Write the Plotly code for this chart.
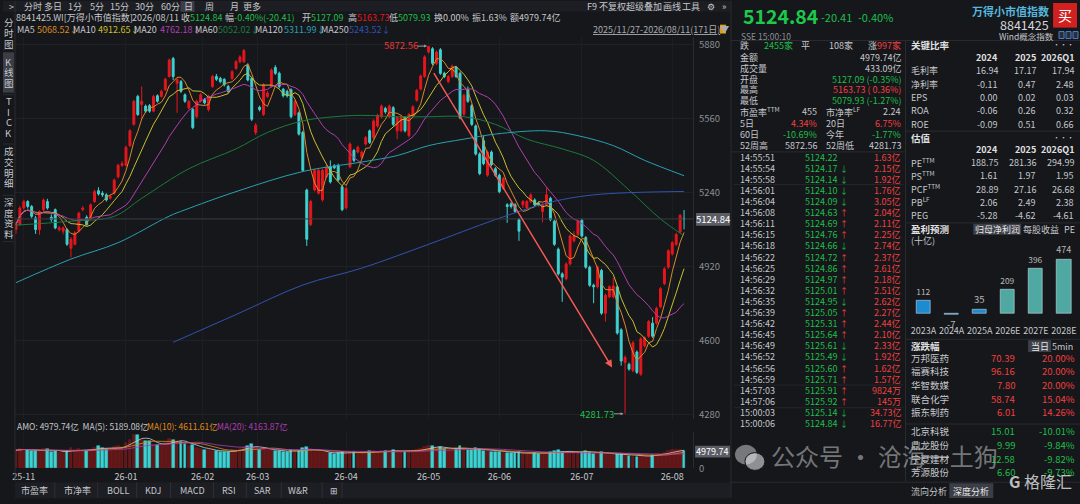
import pandas as pd
import plotly.graph_objects as go

W, H = 1080, 504
BG = "#15171b"
RED = "#e8161d"
CYAN = "#3fd2d2"
GREEN = "#1fbf4a"
TXT = "#c6c7cb"
GRAY = "#8b8e95"
LINE = "#2a2c32"
FONT = "Noto Sans CJK SC"

# K-line data, 2025/11/27 - 2026/08/11 (171 trading days)
OPEN = [5079, 5101, 5172, 5200, 5179, 5129, 5079, 5165, 5200, 5132,
        5165, 5079, 5072, 5079, 4998, 5015, 5072, 5165, 5132, 5129,
        5200, 5247, 5236, 5229, 5215, 5236, 5307, 5357, 5357, 5442,
        5534, 5655, 5620, 5613, 5615, 5591, 5658, 5655, 5684, 5741,
        5819, 5712, 5719, 5662, 5605, 5598, 5567, 5634, 5641, 5598,
        5698, 5741, 5733, 5729, 5698, 5733, 5776, 5805, 5805, 5790,
        5733, 5499, 5608, 5577, 5655, 5698, 5780, 5755, 5686, 5677,
        5684, 5577, 5584, 5499, 5250, 5101, 5250, 5236, 5207, 5307,
        5350, 5354, 5357, 5264, 5172, 5350, 5421, 5414, 5392, 5449,
        5506, 5477, 5527, 5567, 5603, 5567, 5606, 5506, 5506, 5563,
        5485, 5573, 5638, 5687, 5741, 5847, 5861, 5798, 5857, 5755,
        5719, 5741, 5780, 5755, 5578, 5684, 5615, 5527, 5406, 5463,
        5314, 5414, 5342, 5314, 5257, 5186, 5190, 5186, 5122, 5186,
        5172, 5200, 5207, 5193, 5157, 5186, 5214, 5115, 4994, 4887,
        4866, 4930, 5030, 5058, 5119, 5044, 4916, 4838, 4831, 4902,
        4717, 4788, 4788, 4831, 4645, 4503, 4496, 4468, 4549, 4453,
        4575, 4617, 4674, 4674, 4745, 4845, 4916, 4973, 5015, 5069,
        5127.09]
HIGH = [5112, 5180, 5208, 5206, 5185, 5138, 5162, 5214, 5212, 5145,
        5170, 5094, 5092, 5084, 5046, 5072, 5156, 5180, 5140, 5192,
        5252, 5262, 5245, 5236, 5230, 5300, 5364, 5375, 5442, 5513,
        5640, 5662, 5698, 5620, 5622, 5662, 5664, 5684, 5736, 5819,
        5826, 5734, 5726, 5668, 5640, 5605, 5641, 5670, 5648, 5662,
        5748, 5752, 5740, 5734, 5705, 5769, 5812, 5833, 5860, 5798,
        5740, 5540, 5615, 5712, 5678, 5776, 5790, 5762, 5692, 5684,
        5690, 5641, 5590, 5506, 5256, 5208, 5342, 5342, 5342, 5360,
        5378, 5362, 5364, 5270, 5264, 5456, 5428, 5442, 5421, 5484,
        5512, 5556, 5580, 5620, 5610, 5620, 5613, 5570, 5574, 5570,
        5584, 5617, 5688, 5750, 5833, 5872.56, 5868, 5854, 5864, 5762,
        5748, 5793, 5787, 5762, 5667, 5698, 5622, 5534, 5413, 5485,
        5421, 5421, 5349, 5321, 5307, 5193, 5197, 5193, 5129, 5207,
        5207, 5236, 5214, 5200, 5193, 5260, 5221, 5122, 5001, 4894,
        4937, 5058, 5072, 5122, 5126, 5051, 4923, 4845, 4923, 4909,
        4802, 4838, 4870, 4838, 4652, 4535, 4503, 4596, 4556, 4613,
        4617, 4688, 4700, 4745, 4830, 4916, 4994, 5029, 5065, 5147,
        5163.73]
LOW = [5060, 5095, 5165, 5170, 5128, 5060, 5056, 5158, 5165, 5112,
       5080, 5070, 5058, 5008, 4958, 5010, 5066, 5158, 5095, 5122,
       5194, 5226, 5220, 5200, 5208, 5230, 5300, 5350, 5352, 5436,
       5528, 5570, 5556, 5584, 5584, 5586, 5628, 5650, 5678, 5736,
       5726, 5584, 5670, 5627, 5598, 5513, 5560, 5628, 5620, 5590,
       5692, 5722, 5712, 5698, 5670, 5726, 5770, 5798, 5800, 5720,
       5548, 5488, 5590, 5570, 5648, 5692, 5748, 5690, 5650, 5650,
       5560, 5570, 5485, 5328, 5008, 5094, 5244, 5230, 5200, 5300,
       5278, 5340, 5286, 5158, 5166, 5344, 5370, 5408, 5385, 5442,
       5449, 5470, 5520, 5560, 5580, 5560, 5527, 5470, 5500, 5499,
       5478, 5566, 5632, 5680, 5735, 5840, 5790, 5790, 5748, 5734,
       5712, 5734, 5734, 5556, 5570, 5627, 5527, 5399, 5314, 5357,
       5307, 5353, 5307, 5236, 5250, 5108, 5170, 5150, 5030, 5172,
       5165, 5193, 5179, 5179, 5110, 5179, 5115, 5008, 4880, 4766,
       4859, 4923, 5023, 5051, 5044, 4909, 4831, 4760, 4824, 4710,
       4680, 4781, 4781, 4624, 4490, 4281.73, 4468, 4461, 4454, 4446,
       4568, 4610, 4610, 4667, 4738, 4838, 4909, 4966, 5008, 5062,
       5079.93]
CLOSE = [5101, 5172, 5200, 5179, 5136, 5079, 5157, 5207, 5172, 5122,
         5086, 5086, 5086, 5015, 5037, 5065, 5150, 5172, 5101, 5186,
         5243, 5233, 5229, 5207, 5222, 5293, 5357, 5364, 5435, 5506,
         5634, 5577, 5634, 5591, 5591, 5655, 5634, 5677, 5729, 5812,
         5741, 5729, 5677, 5634, 5634, 5520, 5634, 5662, 5627, 5655,
         5741, 5729, 5719, 5705, 5677, 5762, 5805, 5826, 5854, 5726,
         5556, 5530, 5598, 5705, 5670, 5769, 5755, 5698, 5658, 5658,
         5567, 5634, 5492, 5335, 5037, 5200, 5335, 5335, 5335, 5350,
         5285, 5346, 5293, 5165, 5257, 5449, 5378, 5435, 5414, 5477,
         5456, 5549, 5573, 5613, 5588, 5613, 5534, 5563, 5567, 5506,
         5577, 5610, 5681, 5743, 5826, 5871, 5798, 5847, 5755, 5741,
         5741, 5786, 5741, 5563, 5660, 5634, 5534, 5406, 5321, 5364,
         5414, 5360, 5314, 5243, 5300, 5179, 5179, 5157, 5072, 5200,
         5200, 5229, 5186, 5186, 5186, 5229, 5122, 5015, 4887, 4873,
         4930, 5051, 5051, 5115, 5051, 4916, 4838, 4831, 4916, 4717,
         4795, 4831, 4835, 4631, 4510, 4525, 4475, 4589, 4461, 4606,
         4610, 4681, 4617, 4738, 4823, 4909, 4987, 5022, 5058, 5140,
         5124.84]
# turnover (亿)
AMO = [5200, 5600, 5400, 5300, 4900, 5000, 4700, 5500, 5600, 4800,
       5000, 4500, 4300, 5100, 5900, 5200, 5600, 4700, 5100, 5400,
       5800, 6300, 5900, 5600, 5300, 6000, 6400, 6200, 7300, 8200,
       9500, 9600, 8000, 7800, 7700, 6800, 6600, 6300, 7400, 8400,
       8200, 7900, 7600, 6900, 6300, 6700, 5800, 5500, 5200, 5300,
       5100, 4900, 4800, 4600, 4700, 5200, 5400, 5500, 6100, 6500,
       6900, 6000, 5200, 5700, 5300, 5200, 5100, 4900, 4800, 4700,
       5300, 4900, 5100, 5700, 6200, 5300, 4800, 4600, 4700, 4400,
       4500, 4200, 4300, 4600, 4400, 4800, 4600, 4400, 4500, 4700,
       4900, 5000, 4800, 5100, 4900, 5000, 5200, 4900, 4800, 4700,
       5000, 5100, 5300, 5600, 6000, 6300, 6400, 5900, 6200, 5600,
       5300, 5400, 5500, 6300, 5600, 5400, 5300, 5700, 5500, 5100,
       4900, 4800, 4600, 4700, 4500, 4400, 4300, 4400, 4600, 4300,
       4200, 4400, 4300, 4100, 4200, 4500, 4600, 4900, 5200, 4800,
       4600, 4800, 4500, 4700, 4800, 5000, 4600, 4200, 4300, 4700,
       4300, 3900, 3800, 4100, 4200, 4000, 3500, 3400, 3300, 3500,
       3461, 3900, 3800, 4000, 4100, 4366, 5000, 5300, 5400, 5270,
       4979.74]

# long moving averages (index, value)
MA60_X = [0, 14, 25, 32, 44, 56, 64, 73, 81, 88, 97, 105, 114, 122, 130, 139, 147, 156, 164, 170]
MA60_Y = [5098, 5115, 5136, 5214, 5342, 5428, 5499, 5549, 5567, 5573, 5567, 5567, 5567, 5534,
          5470, 5428, 5378, 5250, 5125, 5052.02]
MA120_X = [0, 14, 26, 39, 43, 56, 73, 88, 97, 105, 114, 122, 135, 143, 152, 160, 170]
MA120_Y = [4849, 4951, 5022, 5137, 5164, 5243, 5330, 5371, 5399, 5442, 5470, 5492, 5506, 5485,
           5442, 5378, 5311.99]
MA250_X = [40, 56, 73, 88, 105, 122, 135, 147, 170]
MA250_Y = [4591, 4711, 4839, 4912, 5015, 5122, 5193, 5229, 5243.52]

MONTH_POS = [2, 28, 47.5, 61.5, 84, 105, 123, 144, 167]
MONTH_LBL = ["25-11", "26-01", "26-02", "26-03", "26-04", "26-05", "26-06", "26-07", "26-08"]
PRICE_TICKS = [4280, 4600, 4920, 5240, 5560, 5880]

MA_NAMES = ["MA5", "MA10", "MA20", "MA60", "MA120", "MA250"]
MA_LAST = ["5068.52", "4912.65", "4762.18", "5052.02", "5311.99", "5243.52"]
MA_COLORS = ["#d9882a", "#c9bf2f", "#b03fb0", "#1d7a3e", "#2aa0b0", "#3452b0"]

# right panel data
TICK_TIME = ["14:55:51", "14:55:54", "14:55:58", "14:56:01", "14:56:04", "14:56:08", "14:56:11",
             "14:56:15", "14:56:18", "14:56:22", "14:56:25", "14:56:29", "14:56:32", "14:56:35",
             "14:56:39", "14:56:42", "14:56:45", "14:56:49", "14:56:52", "14:56:56", "14:56:59",
             "14:57:03", "14:57:06", "15:00:03", "15:00:06"]
TICK_PRICE = ["5124.22", "5124.17", "5124.14", "5124.10", "5124.09", "5124.63", "5124.69",
              "5124.76", "5124.66", "5124.72", "5124.86", "5124.97", "5125.01", "5124.95",
              "5125.05", "5125.31", "5125.64", "5125.61", "5125.49", "5125.60", "5125.71",
              "5125.91", "5125.92", "5125.14", "5124.84"]
TICK_DIR = ["", "d", "d", "d", "d", "u", "u", "u", "d", "u", "u", "u", "u", "d",
            "u", "u", "u", "d", "d", "u", "u", "u", "u", "d", "d"]
TICK_AMT = ["1.63亿", "2.15亿", "1.92亿", "1.76亿", "3.05亿", "2.04亿", "2.11亿", "2.25亿",
            "2.74亿", "2.37亿", "2.61亿", "2.18亿", "2.51亿", "2.62亿", "2.27亿", "2.44亿",
            "2.10亿", "2.33亿", "1.92亿", "1.62亿", "1.57亿", "9824万", "145万", "34.73亿",
            "16.77亿"]

RATIO_YEARS = ["2024", "2025", "2026Q1"]
RATIO_ROWS = ["毛利率", "净利率", "EPS", "ROA", "ROE"]
RATIO_VALS = [["16.94", "17.17", "17.94"], ["-0.11", "0.47", "2.48"], ["0.00", "0.02", "0.03"],
              ["-0.06", "0.26", "0.32"], ["-0.09", "0.51", "0.66"]]
VAL_ROWS = ["PE<sup>TTM</sup>", "PS<sup>TTM</sup>", "PCF<sup>TTM</sup>", "PB<sup>LF</sup>", "PEG"]
VAL_VALS = [["188.75", "281.36", "294.99"], ["1.61", "1.97", "1.95"], ["28.89", "27.16", "26.68"],
            ["2.06", "2.49", "2.38"], ["-5.28", "-4.62", "-4.61"]]

PROFIT_CAT = ["2023A", "2024A", "2025A", "2026E", "2027E", "2028E"]
PROFIT_VAL = [112, -7, 35, 209, 396, 474]

MOVER_NAME = ["万邦医药", "福赛科技", "华智数媒", "联合化学", "振东制药",
              "北京科锐", "鼎龙股份", "宁夏建材", "芳源股份"]
MOVER_PRICE = ["70.39", "96.16", "7.80", "58.74", "6.01", "15.01", "9.99", "12.58", "6.60"]
MOVER_PCT = ["20.00%", "20.00%", "20.00%", "15.04%", "14.26%", "-10.01%", "-9.84%", "-9.82%", "-9.73%"]

IDX = list(range(len(CLOSE)))

ann, shp = [], []


def txt(x, y, s, color=TXT, size=9, anchor="left"):
    ann.append(dict(xref="paper", yref="paper", x=x / W, y=1 - y / H, text=s, showarrow=False,
                    xanchor=anchor, yanchor="middle", borderpad=0,
                    font=dict(color=color, size=size, family=FONT)))


def rect(x0, y0, x1, y1, fill, line=None):
    shp.append(dict(type="rect", xref="paper", yref="paper", x0=x0 / W, x1=x1 / W,
                    y0=1 - y1 / H, y1=1 - y0 / H, fillcolor=fill,
                    line=dict(color=line or fill, width=1 if line else 0)))


def hline(x0, x1, y, color=LINE):
    shp.append(dict(type="line", xref="paper", yref="paper", x0=x0 / W, x1=x1 / W,
                    y0=1 - y / H, y1=1 - y / H, line=dict(color=color, width=1)))


def vline(x, y0, y1, color=LINE):
    shp.append(dict(type="line", xref="paper", yref="paper", x0=x / W, x1=x / W,
                    y0=1 - y0 / H, y1=1 - y1 / H, line=dict(color=color, width=1)))


fig = go.Figure()

# candles
fig.add_trace(go.Candlestick(
    x=IDX, open=OPEN, high=HIGH, low=LOW, close=CLOSE,
    increasing=dict(line=dict(color=RED, width=1), fillcolor=RED),
    decreasing=dict(line=dict(color=CYAN, width=1), fillcolor=CYAN),
    whiskerwidth=0, hoverinfo="skip", showlegend=False, xaxis="x", yaxis="y"))

close = pd.Series(CLOSE)
for n, col in zip([5, 10, 20], MA_COLORS[:3]):
    fig.add_trace(go.Scatter(x=IDX, y=close.rolling(n, min_periods=1).mean(), mode="lines",
                             line=dict(color=col, width=1), hoverinfo="skip", showlegend=False))
for xs, ys, col in [(MA60_X, MA60_Y, MA_COLORS[3]), (MA120_X, MA120_Y, MA_COLORS[4]),
                    (MA250_X, MA250_Y, MA_COLORS[5])]:
    fig.add_trace(go.Scatter(x=xs, y=ys, mode="lines", line=dict(color=col, width=1, shape="spline"),
                             hoverinfo="skip", showlegend=False))

# volume
vol_colors = ["#5e1616" if c >= o else CYAN for o, c in zip(OPEN, CLOSE)]
vol_lines = ["#9a1e1e" if c >= o else CYAN for o, c in zip(OPEN, CLOSE)]
fig.add_trace(go.Bar(x=IDX, y=AMO, width=0.7, marker=dict(color=vol_colors, line=dict(color=vol_lines, width=0.5)),
                     xaxis="x2", yaxis="y2", hoverinfo="skip", showlegend=False))
amo = pd.Series(AMO)
for n, col in zip([5, 10, 20], ["#cfcfcf", "#e08a1e", "#b03cb0"]):
    fig.add_trace(go.Scatter(x=IDX, y=amo.rolling(n, min_periods=1).mean(), mode="lines",
                             line=dict(color=col, width=0.8), xaxis="x2", yaxis="y2",
                             hoverinfo="skip", showlegend=False))

# profit forecast bars
fig.add_trace(go.Bar(x=PROFIT_CAT, y=PROFIT_VAL, text=PROFIT_VAL, textposition="outside",
                     cliponaxis=False, width=0.5,
                     marker=dict(color=["#1d8bd0"] * 3 + ["#4fa9a2"] * 3),
                     textfont=dict(color="#b8b8b8", size=9.5, family=FONT),
                     xaxis="x3", yaxis="y3", hoverinfo="skip", showlegend=False))

# ---- chart annotations ----
fig.add_annotation(x=151.7, y=4482, ax=106.1, ay=5762, xref="x", yref="y", axref="x", ayref="y",
                   text="", showarrow=True, arrowhead=2, arrowsize=1, arrowwidth=1.5, arrowcolor="#f25a55")
fig.add_annotation(x=104.6, y=5872.56, ax=-11, ay=0, xref="x", yref="y", text="", showarrow=True,
                   arrowhead=2, arrowsize=0.6, arrowwidth=1, arrowcolor="#9a9a9a")
fig.add_annotation(x=154.6, y=4281.73, ax=-11, ay=0, xref="x", yref="y", text="", showarrow=True,
                   arrowhead=2, arrowsize=0.6, arrowwidth=1, arrowcolor="#9a9a9a")
txt(417, 45, "5872.56", "#e63a3a", 9.5, "right")
txt(614, 419, "4281.73", GREEN, 9.5, "right")

# last price line + box
shp.append(dict(type="line", xref="paper", yref="y", x0=12 / W, x1=692 / W, y0=5124.84, y1=5124.84,
                line=dict(color="#3a3d44", width=1)))
rect(695, 215, 729, 228, "#5a5d65")
txt(712, 221.5, "5124.84", "#ffffff", 9.5, "center")
rect(694, 451, 729, 463, "#5a5d65")
txt(711, 457, "4979.74", "#ffffff", 9, "center")

# ---- top toolbar / legends ----
rect(0, 0, 730, 11, "#1c1e23")
rect(178, 0, 192, 11, "#3b3e46")
for x, s in [(5, ">"), (20, "分时"), (40, "多日"), (64, "1分"), (86, "5分"), (106, "15分"), (131, "30分"),
             (157, "60分"), (181, "日"), (202, "周"), (227, "月"), (240, "更多"),
             (585, "F9"), (597, "不复权"), (624, "超级叠加"), (661, "画线"), (680, "工具"), (705, "⚙"), (720, "»")]:
    txt(x, 5.5, s, TXT, 9)

txt(12, 16.5, "8841425.WI[万得小市值指数]", TXT, 9)
txt(128, 16.5, "2026/08/11", TXT, 9)
txt(177, 16.5, "收<span style='color:%s'>5124.84</span>" % GREEN, TXT, 9)
txt(222, 16.5, "幅<span style='color:%s'>-0.40%%(-20.41)</span>" % GREEN, TXT, 9)
txt(299, 16.5, "开<span style='color:%s'>5127.09</span>" % GREEN, TXT, 9)
txt(345, 16.5, "高<span style='color:%s'>5163.73</span>" % RED, TXT, 9)
txt(386, 16.5, "低<span style='color:%s'>5079.93</span>" % GREEN, TXT, 9)
txt(431, 16.5, "换0.00%", TXT, 9)
txt(469, 16.5, "振1.63%", TXT, 9)
txt(507, 16.5, "额4979.74亿", TXT, 9)

ma_label_x = [13, 69, 130, 192, 252, 318]
ma_val_x = [33, 94, 156, 215, 281, 346]
for name, val, col, lx, vx in zip(MA_NAMES, MA_LAST, MA_COLORS, ma_label_x, ma_val_x):
    txt(lx, 29, name, TXT, 9)
    txt(vx, 29, val + "↓", col, 9)
txt(591, 29, "<u>2025/11/27-2026/08/11(171日)</u>▼", "#a9abb0", 9)
rect(719, 24, 725, 33, "#d9a21b")

# left sidebar
vline(12, 0, 487)
rect(0, 52, 11, 93, "#3b3e46")
groups = [("分时图", 21.5), ("K线图", 61.5), ("TICK", 101.5), ("成交明细", 152.5), ("深度资料", 204)]
for chars, y0 in groups:
    for k, ch in enumerate(chars):
        txt(6, y0 + k * 10.8, ch, TXT, 9.5, "center")
for y in [49, 95, 145, 197, 244]:
    hline(0, 11, y)

# volume legend
txt(13, 431, "AMO: 4979.74亿  MA(5): 5189.08亿", TXT, 8.5)
txt(143, 431, "MA(10): 4611.61亿", "#e08a1e", 8.5)
txt(214, 431, "MA(20): 4163.87亿", "#b03cb0", 8.5)

# bottom indicator tabs
rect(12, 488, 730, 504, "#1c1e23")
for x, s in [(17, "市盈率"), (60, "市净率"), (103, "BOLL"), (141, "KDJ"), (176, "MACD"),
             (219, "RSI"), (251, "SAR"), (285, "W&R"), (327, "⊞")]:
    txt(x, 496.5, s, TXT, 9)
for x in [52, 95, 134, 168, 211, 244, 279, 320, 340]:
    vline(x, 488, 504, "#2e3037")

# ---- right panel ----
vline(730, 0, 504, "#2a2c32")
txt(741, 15, "<b>5124.84</b>", "#1ec84c", 19.5)
txt(819, 16, "-20.41", GREEN, 11)
txt(856, 16, "-0.40%", GREEN, 11)
txt(1050, 10, "<b>万得小市值指数</b>", "#56b6de", 11, "right")
txt(1050, 23.5, "8841425", "#d5d6d8", 12.5, "right")
rect(1053, 2, 1077, 27, "#d02020")
txt(1065, 14.5, "买", "#ffffff", 14, "center")
txt(739, 35, "SSE 15:00:10", GRAY, 8.5)
txt(1055, 35, "Wind概念指数", TXT, 8.5, "right")
for x in [1059, 1066, 1073]:
    rect(x, 31, x + 5, 38, "#2a2d34", "#4a7fd0")
hline(730, 1080, 40)
vline(905, 40, 487)

# quote summary
txt(738, 45.5, "跌", TXT, 9)
txt(762, 45.5, "2455家", GREEN, 9)
txt(799, 45.5, "平", TXT, 9)
txt(853, 45.5, "108家", TXT, 9, "right")
txt(866, 45.5, "涨", TXT, 9)
txt(902, 45.5, "997家", "#f04040", 9, "right")
summary = [("金额", "4979.74亿", TXT), ("成交量", "433.09亿", TXT), ("开盘", "5127.09 (-0.35%)", GREEN),
           ("最高", "5163.73 ( 0.36%)", "#f04040"), ("最低", "5079.93 (-1.27%)", GREEN)]
for k, (lab, val, col) in enumerate(summary):
    y = 57.3 + k * 10.95
    txt(738, y, lab, TXT, 9)
    txt(902, y, val, col, 9, "right")
pairs = [("市盈率<sup>TTM</sup>", "455", TXT, "市净率<sup>LF</sup>", "2.24", TXT),
         ("5日", "4.34%", "#f04040", "20日", "6.75%", "#f04040"),
         ("60日", "-10.69%", GREEN, "今年", "-1.77%", GREEN),
         ("52周高", "5872.56", TXT, "52周低", "4281.73", TXT)]
for k, (l1, v1, c1, l2, v2, c2) in enumerate(pairs):
    y = 112.5 + k * 11.4
    txt(738, y, l1, TXT, 9)
    txt(817, y, v1, c1, 9, "right")
    txt(824, y, l2, TXT, 9)
    txt(902, y, v2, c2, 9, "right")
hline(730, 905, 153)

# tick-by-tick
for k, (t, p, d, a) in enumerate(zip(TICK_TIME, TICK_PRICE, TICK_DIR, TICK_AMT)):
    y = 158.3 + k * 11.26
    txt(738, y, t, TXT, 9)
    txt(837, y, p, GREEN, 9, "right")
    if d == "u":
        txt(843, y, "↑", "#f04040", 8, "center")
    elif d == "d":
        txt(843, y, "↓", GREEN, 8, "center")
    txt(902, y, a, "#f04040", 9, "right")
for y in [186, 389.5, 412.5]:
    hline(733, 903, y, "#25272d")

# key ratios
col_x = [999, 1037, 1075]
txt(910, 45, "<b>关键比率</b>", "#e0e0e0", 9.5)
txt(1075, 44, "•••", TXT, 7, "right")
for cx, yr in zip(col_x, RATIO_YEARS):
    txt(cx, 57.3, "<b>%s</b>" % yr, "#e0e0e0", 9, "right")
for k, (lab, vals) in enumerate(zip(RATIO_ROWS, RATIO_VALS)):
    y = 70.7 + k * 13.6
    txt(910, y, lab, TXT, 9)
    for cx, v in zip(col_x, vals):
        txt(cx, y, v, TXT, 9, "right")
hline(905, 1080, 132)
txt(910, 138.5, "<b>估值</b>", "#e0e0e0", 9.5)
txt(1075, 137.5, "•••", TXT, 7, "right")
for cx, yr in zip(col_x, RATIO_YEARS):
    txt(cx, 150.5, "<b>%s</b>" % yr, "#e0e0e0", 9, "right")
for k, (lab, vals) in enumerate(zip(VAL_ROWS, VAL_VALS)):
    y = 164 + k * 13.4
    txt(910, y, lab, TXT, 9)
    for cx, v in zip(col_x, vals):
        txt(cx, y, v, TXT, 9, "right")
hline(905, 1080, 225)

# profit forecast header
txt(910, 231.5, "<b>盈利预测</b>", "#e0e0e0", 9.5)
rect(973, 226, 1021, 237, "#3d4048")
txt(997, 231.5, "归母净利润", "#e8e8e8", 9, "center")
txt(1041, 231.5, "每股收益", TXT, 9, "center")
txt(1069, 231.5, "PE", TXT, 9, "center")
txt(910, 242.5, "(十亿)", TXT, 9)

# movers
hline(905, 1080, 343)
txt(910, 350, "<b>涨跌幅</b>", "#e0e0e0", 9.5)
rect(1028, 344, 1051, 356, "#3d4048")
txt(1039.5, 350, "当日", "#e8e8e8", 9, "center")
txt(1062, 350, "5min", TXT, 9, "center")
mover_y = [361.7, 375.6, 389.4, 403.3, 417.2, 436, 450, 464, 478]
for y, n, p, c in zip(mover_y, MOVER_NAME, MOVER_PRICE, MOVER_PCT):
    col = GREEN if c.startswith("-") else "#f04040"
    txt(910, y, n, TXT, 9.5)
    txt(1016, y, p, col, 9.5, "right")
    txt(1076, y, c, col, 9.5, "right")
hline(905, 1080, 429)

# bottom right tabs
hline(730, 1080, 488)
rect(949, 489, 993, 504, "#3b3e46")
txt(929, 497, "流向分析", TXT, 9, "center")
txt(971, 497, "深度分析", "#e8e8e8", 9, "center")

# watermark
shp.append(dict(type="circle", xref="paper", yref="paper", x0=734 / W, x1=756 / W,
                y0=1 - 470 / H, y1=1 - 450 / H, fillcolor="rgba(200,200,200,0.55)", line=dict(width=0)))
shp.append(dict(type="circle", xref="paper", yref="paper", x0=744 / W, x1=764 / W,
                y0=1 - 476 / H, y1=1 - 458 / H, fillcolor="rgba(225,225,225,0.6)", line=dict(color=BG, width=1)))
txt(769, 461, "公众号 · 沧海一土狗", "rgba(200,200,200,0.55)", 24)
txt(1008, 487, "<b>G</b> 格隆汇", "rgba(235,235,235,0.8)", 16)

# ---- axes ----
main_dom = [1 - 424 / H, 1 - 37 / H]
vol_dom = [1 - 474 / H, 1 - 437 / H]
xr = [-0.25, 172.3]
fig.update_layout(
    width=W, height=H, autosize=False,
    margin=dict(l=0, r=0, t=0, b=0),
    paper_bgcolor=BG, plot_bgcolor=BG,
    font=dict(family=FONT, color=TXT, size=9),
    showlegend=False,
    bargap=0,
    xaxis=dict(domain=[12 / W, 692 / W], range=xr, anchor="y", showticklabels=False,
               tickvals=MONTH_POS, showgrid=True, gridcolor="#1c1e23", zeroline=False,
               rangeslider=dict(visible=False), fixedrange=True),
    yaxis=dict(domain=main_dom, range=[4258.7, 5909.9], side="right", tickvals=PRICE_TICKS,
               tickfont=dict(color=GRAY, size=9.5), showgrid=True, gridcolor="#1f2126",
               zeroline=False, showline=True, linecolor=LINE, ticklabelstandoff=3),
    xaxis2=dict(domain=[12 / W, 692 / W], range=xr, anchor="y2", tickvals=MONTH_POS,
                ticktext=MONTH_LBL, tickfont=dict(color=TXT, size=9), showgrid=True,
                gridcolor="#1c1e23", zeroline=False, ticks="", ticklabelstandoff=2),
    yaxis2=dict(domain=vol_dom, range=[0, 10400], side="right", tickvals=[0],
                tickfont=dict(color=GRAY, size=9.5), showgrid=False, zeroline=False,
                showline=True, linecolor=LINE, ticklabelstandoff=3),
    xaxis3=dict(domain=[909 / W, 1078 / W], anchor="y3", tickfont=dict(color=TXT, size=9),
                showgrid=False, zeroline=False, ticks="", ticklabelstandoff=5),
    yaxis3=dict(domain=[1 - 322 / H, 1 - 250 / H], range=[-46, 578], visible=False),
    annotations=fig.layout.annotations + tuple(ann),
    shapes=shp,
)

# page setup: drop the default body margin so the figure sits at the window's top-left
page = ("document.documentElement.style.margin='0';document.body.style.margin='0';"
        "document.body.style.overflow='hidden';document.body.style.background='%s';" % BG)
fig.write_html("out.html", config={"displayModeBar": False}, post_script=page)
